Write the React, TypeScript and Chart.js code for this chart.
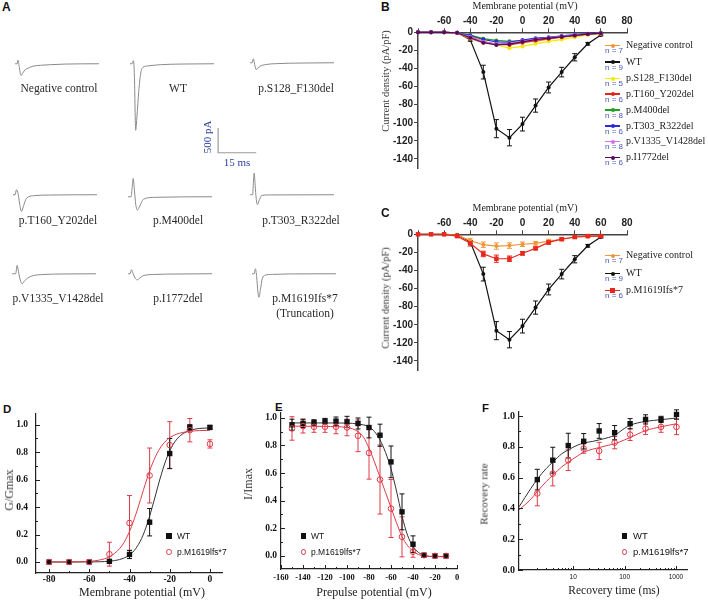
import React, { useEffect, useRef } from "react";
import { Chart, registerables } from "chart.js";
Chart.register(...registerables);

// ---------------- Panel A: representative current traces (ms, pA) ----------------
const ncTraceMs = [0, 0.8, 1.2, 1.6, 2.3, 3, 4, 5.5, 7, 10, 14, 20, 33];
const ncTracePA = [0, 0, 60, -40, -190, -150, -95, -65, -40, -25, -15, -5, 0];
const wtTraceMs = [0, 0.8, 1.3, 1.7, 2.2, 2.7, 3.4, 4.2, 5, 7, 12, 20, 33];
const wtTracePA = [0, 0, 50, -200, -1075, -850, -450, -150, -60, -35, -15, -5, 0];
const s128TraceMs = [0, 0.8, 1.3, 1.8, 2.4, 3, 4, 6, 10, 20, 33];
const s128TracePA = [0, 0, 65, -30, -110, -90, -55, -30, -15, -5, 0];
const t160TraceMs = [0, 0.8, 1.3, 2.0, 2.6, 3.3, 4.2, 5.3, 8, 14, 33];
const t160TracePA = [0, 0, 80, 10, -150, -270, -170, -55, -16, -5, 0];
const m400TraceMs = [0, 1.2, 1.6, 2.0, 2.5, 3.0, 3.7, 4.6, 6, 10, 33];
const m400TracePA = [0, 0, 150, 295, 100, -120, -215, -150, -43, -10, 0];
const t303TraceMs = [0, 1.0, 1.3, 1.6, 2.0, 2.4, 2.9, 3.5, 4.6, 8, 33];
const t303TracePA = [0, 0, 200, 350, 150, -60, -160, -100, -10, -3, 0];
const v1335TraceMs = [0, 1.4, 2.0, 2.5, 3.2, 4.0, 5.0, 7.2, 12.5, 20, 33.5];
const v1335TracePA = [0, 0, 135, 40, -100, -160, -110, -45, -12, -4, 0];
const i1772TraceMs = [0, 0.8, 1.3, 2.0, 2.8, 3.6, 4.6, 5.9, 10, 20, 33];
const i1772TracePA = [0, 0, 65, 0, -70, -100, -70, -32, -12, -4, 0];
const m1619TraceMs = [0, 0.8, 1.3, 1.8, 2.3, 2.7, 3.3, 4.0, 5.0, 8, 15, 33];
const m1619TracePA = [0, 0, 80, -50, -300, -380, -250, -80, -25, -10, -3, 0];
const scaleBarPA = 500;
const scaleBarMs = 15;

// ---------------- Panels B & C: I-V curves ----------------
const ivVoltages = [-80, -70, -60, -50, -40, -30, -20, -10, 0, 10, 20, 30, 40, 50, 60];
const ivNegCtrl = [0, 0, 0, -1, -7, -11.5, -13, -12.5, -11, -10, -7.5, -5.5, -3, -2.5, -2];
const ivNegCtrlErr = [0, 0, 0, 0.5, 2.5, 3, 3.5, 3, 2.5, 2, 2, 1.5, 1.5, 1, 1];
const ivWT = [0, 0, 0, -0.5, -8.3, -44, -106.5, -116.5, -101.5, -81, -61, -44, -27.6, -12.7, -2.9];
const ivWTErr = [0, 0, 0, 0.5, 1.5, 7.6, 10, 9, 7.6, 7.3, 6, 5.3, 4, 1.5, 1];
const ivS128 = [0, 0, 0, -0.5, -4, -9, -14, -17.5, -15.6, -12.7, -10, -8, -5.4, -3, -1];
const ivT160 = [0, 0, 0, -0.5, -5, -10.5, -13, -14, -11.5, -9, -7, -5.5, -3.6, -2, -1];
const ivM400 = [0, 0, 0, -0.5, -3, -7, -9, -10, -9, -7, -6, -4.5, -3, -2, -1];
const ivT303 = [0, 0, 0, -0.5, -3.5, -8, -10.5, -11, -8.5, -6.5, -5.5, -4, -2.5, -1.5, -1];
const ivV1335 = [0, 0, 0, -0.5, -5, -10.5, -13, -12, -10, -7.5, -6, -4.5, -3, -2, -1];
const ivI1772 = [0, 0, 0, -0.5, -6, -11.5, -14, -13, -10.5, -8, -6.5, -5, -3.5, -2, -1];
const ivM1619 = [0, 0, 0, -2, -10, -21.7, -27, -27, -21, -15.6, -9, -5.4, -3, -2, -2];
const ivM1619Err = [0, 0, 0, 1, 3, 3, 4, 3, 2, 1.5, 2, 1.5, 1, 1, 1];
const ivXTicks = [-80, -60, -40, -20, 0, 20, 40, 60, 80];
const ivYTicks = [-140, -120, -100, -80, -60, -40, -20, 0];

// ---------------- Panel D: activation ----------------
const actV = [-80, -70, -60, -50, -40, -30, -20, -10, 0];
const actWT = [0, 0, 0, 0.005, 0.055, 0.29, 0.79, 0.98, 0.98];
const actWTErr = [0, 0, 0, 0.005, 0.03, 0.1, 0.11, 0.02, 0.015];
const actMut = [0, 0, 0, 0.057, 0.284, 0.63, 0.852, 0.96, 0.86];
const actMutErr = [0, 0, 0, 0.087, 0.2, 0.2, 0.17, 0.085, 0.03];
const actFitWTV = [-80, -70, -60, -55, -50, -45, -40, -37, -34, -31, -28, -25, -22, -19, -16, -13, -10, -5, 0];
const actFitWT = [0, 0.0001, 0.0006, 0.0019, 0.0059, 0.0176, 0.051, 0.096, 0.171, 0.286, 0.436, 0.597, 0.737, 0.838, 0.902, 0.938, 0.958, 0.973, 0.976];
const actFitMutV = [-80, -70, -60, -55, -50, -45, -42, -39, -36, -33, -30, -27, -24, -21, -18, -15, -10, -5, 0];
const actFitMut = [0.0001, 0.0007, 0.0053, 0.0142, 0.038, 0.096, 0.161, 0.258, 0.385, 0.528, 0.663, 0.77, 0.846, 0.894, 0.922, 0.938, 0.952, 0.957, 0.959];
const actXTicks = [-80, -60, -40, -20, 0];
const actXMinor = [-70, -50, -30, -10];
const fracYTicks = [0, 0.2, 0.4, 0.6, 0.8, 1.0];
const fracYMinor = [0.1, 0.3, 0.5, 0.7, 0.9];

// ---------------- Panel E: steady-state inactivation ----------------
const inactV = [-150, -140, -130, -120, -110, -100, -90, -80, -70, -60, -50, -40, -30, -20, -10];
const inactWT = [0.95, 0.96, 0.966, 0.976, 0.976, 0.971, 0.959, 0.93, 0.874, 0.681, 0.319, 0.085, 0.005, 0, 0];
const inactWTErr = [0.04, 0.03, 0.02, 0.02, 0.03, 0.04, 0.04, 0.075, 0.08, 0.115, 0.13, 0.06, 0.01, 0.005, 0.005];
const inactMut = [0.923, 0.94, 0.935, 0.935, 0.935, 0.93, 0.87, 0.746, 0.553, 0.343, 0.138, 0.03, 0.005, 0, 0];
const inactMutErr = [0.085, 0.05, 0.04, 0.04, 0.05, 0.06, 0.115, 0.19, 0.25, 0.21, 0.145, 0.04, 0.01, 0.005, 0.005];
const inactFitWTV = [-150, -120, -100, -90, -80, -75, -70, -65, -60, -55, -50, -45, -40, -35, -30, -20, -10];
const inactFitWT = [0.963, 0.963, 0.962, 0.955, 0.935, 0.9, 0.84, 0.75, 0.63, 0.47, 0.29, 0.15, 0.07, 0.025, 0.005, -0.005, -0.005];
const inactFitMutV = [-150, -120, -100, -90, -85, -80, -75, -70, -65, -60, -55, -50, -45, -40, -35, -30, -20, -10];
const inactFitMut = [0.94, 0.938, 0.93, 0.9, 0.86, 0.78, 0.68, 0.57, 0.46, 0.35, 0.24, 0.14, 0.075, 0.035, 0.01, 0, -0.005, -0.005];
const inactXTicks = [-160, -140, -120, -100, -80, -60, -40, -20, 0];
const inactXMinor = [-150, -130, -110, -90, -70, -50, -30, -10];

// ---------------- Panel F: recovery from inactivation ----------------
const recT = [2, 4, 8, 16, 32, 64, 128, 256, 512, 1024];
const recWT = [0.587, 0.713, 0.808, 0.836, 0.903, 0.892, 0.95, 0.978, 0.978, 1.01];
const recWTErr = [0.067, 0.084, 0.08, 0.05, 0.048, 0.046, 0.033, 0.03, 0.02, 0.03];
const recMut = [0.497, 0.626, 0.713, 0.788, 0.773, 0.827, 0.879, 0.918, 0.929, 0.929];
const recMutErr = [0.08, 0.08, 0.067, 0.03, 0.056, 0.04, 0.038, 0.038, 0.035, 0.05];
const recFitT = [0.88, 1.5, 2, 3, 4, 6, 8, 12, 16, 24, 32, 48, 64, 100, 128, 256, 512, 1024];
const recFitWT = [0.41, 0.53, 0.59, 0.66, 0.7, 0.755, 0.78, 0.81, 0.825, 0.835, 0.845, 0.86, 0.875, 0.92, 0.94, 0.965, 0.976, 0.987];
const recFitMut = [0.39, 0.46, 0.51, 0.575, 0.615, 0.67, 0.7, 0.74, 0.765, 0.785, 0.795, 0.81, 0.82, 0.845, 0.86, 0.905, 0.93, 0.95];
const recXTicks = [10, 100, 1000];
const recXMinor = [2, 3, 4, 5, 6, 7, 8, 9, 20, 30, 40, 50, 60, 70, 80, 90, 200, 300, 400, 500, 600, 700, 800, 900];

// ---------------- styles ----------------
const SERIF = '"Liberation Serif", "Times New Roman", serif';
const SANS = '"Liberation Sans", Arial, sans-serif';
const C_NC = "#f0963a";
const C_WT = "#111111";
const C_S128 = "#f2ea00";
const C_T160 = "#e3241e";
const C_M400 = "#22a022";
const C_T303 = "#2a2ad8";
const C_V1335 = "#cf72ee";
const C_I1772 = "#5a0a5a";
const C_M1619 = "#e8281e";
const C_MUT = "#dd3c48";
const C_FITK = "#333333";
const N_BLUE = "#4a56b8";

const pts = (xs: number[], ys: number[]) => xs.map((x, i) => ({ x, y: ys[i] }));

const errorBarPlugin = {
  id: "errorBarsCustom",
  beforeDatasetsDraw(chart: any) {
    const ctx = chart.ctx;
    chart.data.datasets.forEach((ds: any, i: number) => {
      const err: number[] | undefined = ds.errorBars;
      if (!err) return;
      const meta = chart.getDatasetMeta(i);
      const xs = chart.scales[meta.xAxisID];
      const ys = chart.scales[meta.yAxisID];
      const cap = ds.errorCap ?? 2.5;
      ctx.save();
      ctx.strokeStyle = ds.errorColor || ds.borderColor;
      ctx.lineWidth = 1;
      ctx.beginPath();
      ds.data.forEach((p: any, j: number) => {
        const e = err[j];
        if (!e || e < 0.0001) return;
        const px = xs.getPixelForValue(p.x);
        const y1 = ys.getPixelForValue(p.y + e);
        const y2 = ys.getPixelForValue(p.y - e);
        if (Math.abs(y2 - y1) < 1.5) return;
        ctx.moveTo(px, y1);
        ctx.lineTo(px, y2);
        ctx.moveTo(px - cap, y1);
        ctx.lineTo(px + cap, y1);
        ctx.moveTo(px - cap, y2);
        ctx.lineTo(px + cap, y2);
      });
      ctx.stroke();
      ctx.restore();
    });
  },
};

function makeInTicks(cfg: { xMajor: number[]; xMinor: number[]; yMajor: number[]; yMinor: number[] }) {
  return {
    id: "inTicks",
    afterDraw(chart: any) {
      const ctx = chart.ctx;
      const { left, bottom } = chart.chartArea;
      const xs = chart.scales.x;
      const ys = chart.scales.y;
      ctx.save();
      ctx.strokeStyle = "#222";
      ctx.lineWidth = 1;
      ctx.beginPath();
      const xt = (v: number, len: number) => {
        const p = Math.round(xs.getPixelForValue(v)) + 0.5;
        ctx.moveTo(p, bottom);
        ctx.lineTo(p, bottom - len);
      };
      const yt = (v: number, len: number) => {
        const p = Math.round(ys.getPixelForValue(v)) + 0.5;
        ctx.moveTo(left, p);
        ctx.lineTo(left + len, p);
      };
      cfg.xMajor.forEach((v) => xt(v, 4));
      cfg.xMinor.forEach((v) => xt(v, 2));
      cfg.yMajor.forEach((v) => yt(v, 4));
      cfg.yMinor.forEach((v) => yt(v, 2));
      ctx.stroke();
      ctx.restore();
    },
  };
}

type Box = { left: number; top: number; width: number; height: number };

function ChartCanvas({ box, make }: { box: Box; make: () => any }) {
  const ref = useRef<HTMLCanvasElement>(null);
  useEffect(() => {
    const chart = new Chart(ref.current as HTMLCanvasElement, make());
    return () => chart.destroy();
  }, []);
  return (
    <canvas
      ref={ref}
      width={box.width}
      height={box.height}
      style={{ position: "absolute", left: box.left, top: box.top, width: box.width, height: box.height }}
    />
  );
}

function Txt(props: {
  x: number; y: number; text: string; size: number; family?: string; weight?: string | number;
  color?: string; align?: "left" | "center" | "right"; rotate?: boolean;
}) {
  const { x, y, text, size, family = SERIF, weight = "normal", color = "#222", align = "center", rotate = false } = props;
  const tx = align === "center" ? "-50%" : align === "left" ? "0" : "-100%";
  return (
    <div
      style={{
        position: "absolute", left: x, top: y,
        transform: `translate(${tx},-50%)${rotate ? " rotate(-90deg)" : ""}`,
        fontFamily: family, fontSize: size, fontWeight: weight as any, color,
        whiteSpace: "nowrap", lineHeight: 1,
      }}
    >
      {text}
    </div>
  );
}

// ---------- chart configs ----------
const TR_W = 89;
const TR_H = 99;
const TR_X0 = 5.1; // px from canvas left to t=0
const TR_Y0 = 24.75; // px from canvas top to 0 pA

function traceConfig(ms: number[], pa: number[], color = "#8a8a8a", width = 1) {
  return {
    type: "line",
    data: {
      datasets: [{
        data: pts(ms, pa), borderColor: color, borderWidth: width, pointRadius: 0,
        cubicInterpolationMode: "monotone", fill: false, clip: false,
      }],
    },
    options: {
      responsive: false, animation: false, layout: { padding: 0 },
      plugins: { legend: { display: false }, tooltip: { enabled: false } },
      scales: {
        x: { type: "linear", display: false, min: -2, max: 33 },
        y: { type: "linear", display: false, min: -1200, max: 400 },
      },
    },
  };
}

function scaleBarConfig() {
  return {
    type: "line",
    data: {
      datasets: [{
        data: [{ x: 0, y: scaleBarPA }, { x: 0, y: 0 }, { x: scaleBarMs, y: 0 }],
        borderColor: "#9a9a9a", borderWidth: 1.2, pointRadius: 0, tension: 0, clip: false,
      }],
    },
    options: {
      responsive: false, animation: false, layout: { padding: 0 },
      plugins: { legend: { display: false }, tooltip: { enabled: false } },
      scales: {
        x: { type: "linear", display: false, min: -2, max: 33 },
        y: { type: "linear", display: false, min: -1200, max: 400 },
      },
    },
  };
}

function ivSeries(label: string, ys: number[], color: string, opts: any = {}) {
  return {
    label, data: pts(ivVoltages, ys), showLine: true, borderColor: color, backgroundColor: color,
    borderWidth: 1.2, pointRadius: 2, pointBorderWidth: 0, tension: 0, clip: false, ...opts,
  };
}

function ivConfig(datasets: any[]) {
  const tickFont = { family: SANS, weight: "bold", size: 10 };
  return {
    type: "scatter",
    data: { datasets },
    plugins: [errorBarPlugin],
    options: {
      responsive: false, animation: false,
      layout: { padding: { left: 0, right: 13, top: 0, bottom: 5 } },
      plugins: { legend: { display: false }, tooltip: { enabled: false } },
      scales: {
        x: {
          type: "linear", position: "top", min: -80, max: 80,
          afterBuildTicks: (s: any) => { s.ticks = ivXTicks.map((v) => ({ value: v })); },
          afterFit: (s: any) => { s.height = 32.3; },
          ticks: { callback: (v: any) => (v === -80 ? "" : String(v)), font: tickFont, color: "#222", padding: 1, maxRotation: 0, autoSkip: false },
          grid: { display: true, drawOnChartArea: false, drawTicks: true, tickLength: 4, color: "#444", lineWidth: 1 },
          border: { display: true, color: "#444", width: 1.5 },
        },
        y: {
          type: "linear", position: "left", min: -150, max: 0,
          afterBuildTicks: (s: any) => { s.ticks = ivYTicks.map((v) => ({ value: v })); },
          afterFit: (s: any) => { s.width = 38; },
          ticks: { callback: (v: any) => String(v), font: tickFont, color: "#222", padding: 1, autoSkip: false },
          grid: { display: true, drawOnChartArea: false, drawTicks: true, tickLength: 4, color: "#444", lineWidth: 1 },
          border: { display: true, color: "#444", width: 1.5 },
        },
      },
    },
  };
}

function sciConfig(p: {
  datasets: any[]; xType: string; xMin: number; xMax: number; yMin: number; yMax: number;
  xTicks: number[]; xMinor: number[]; xFmt: (v: number) => string; xFont: any; xPad: number; xH: number;
  yW: number; yPad: number; yFont: any; padding: any;
}) {
  return {
    type: "scatter",
    data: { datasets: p.datasets },
    plugins: [errorBarPlugin, makeInTicks({ xMajor: p.xTicks, xMinor: p.xMinor, yMajor: fracYTicks, yMinor: fracYMinor })],
    options: {
      responsive: false, animation: false,
      layout: { padding: p.padding },
      plugins: { legend: { display: false }, tooltip: { enabled: false } },
      scales: {
        x: {
          type: p.xType, position: "bottom", min: p.xMin, max: p.xMax,
          afterBuildTicks: (s: any) => { s.ticks = p.xTicks.map((v) => ({ value: v })); },
          afterFit: (s: any) => { s.height = p.xH; },
          ticks: { callback: (v: any) => p.xFmt(Number(v)), font: p.xFont, color: "#111", padding: p.xPad, maxRotation: 0, autoSkip: false },
          grid: { display: false, drawTicks: false },
          border: { display: true, color: "#222", width: 1.2 },
        },
        y: {
          type: "linear", position: "left", min: p.yMin, max: p.yMax,
          afterBuildTicks: (s: any) => { s.ticks = fracYTicks.map((v) => ({ value: v })); },
          afterFit: (s: any) => { s.width = p.yW; },
          ticks: { callback: (v: any) => Number(v).toFixed(1), font: p.yFont, color: "#111", padding: p.yPad, autoSkip: false },
          grid: { display: false, drawTicks: false },
          border: { display: true, color: "#222", width: 1.2 },
        },
      },
    },
  };
}

function wtPoints(xs: number[], ys: number[], err: number[]) {
  return {
    data: pts(xs, ys), showLine: false, pointStyle: "rect", pointRadius: 3.8, pointBorderWidth: 0,
    backgroundColor: "#111", borderColor: "#111", errorBars: err, clip: false,
  };
}
function mutPoints(xs: number[], ys: number[], err: number[]) {
  return {
    data: pts(xs, ys), showLine: false, pointStyle: "circle", pointRadius: 2.8, pointBorderWidth: 1,
    backgroundColor: "rgba(255,255,255,0)", borderColor: C_MUT, errorBars: err, clip: false,
  };
}
function fitLine(xs: number[], ys: number[], color: string) {
  return {
    data: pts(xs, ys), showLine: true, pointRadius: 0, borderColor: color, borderWidth: 1,
    cubicInterpolationMode: "monotone", clip: false,
  };
}

const boldSerif = (size: number) => ({ family: SERIF, weight: "bold", size });

// ---------- layout ----------
const traces = [
  { ms: ncTraceMs, pa: ncTracePA, x: 15, y: 63.3 },
  { ms: wtTraceMs, pa: wtTracePA, x: 130, y: 63.3 },
  { ms: s128TraceMs, pa: s128TracePA, x: 250, y: 63 },
  { ms: t160TraceMs, pa: t160TracePA, x: 13.3, y: 195 },
  { ms: m400TraceMs, pa: m400TracePA, x: 128.3, y: 196.7 },
  { ms: t303TraceMs, pa: t303TracePA, x: 250, y: 195 },
  { ms: v1335TraceMs, pa: v1335TracePA, x: 11.7, y: 273.3 },
  { ms: i1772TraceMs, pa: i1772TracePA, x: 128.3, y: 274 },
  { ms: m1619TraceMs, pa: m1619TracePA, x: 251.7, y: 273.3 },
];
const traceLabels = [
  { t: "Negative control", x: 59, y: 89 },
  { t: "WT", x: 178, y: 89 },
  { t: "p.S128_F130del", x: 296, y: 89 },
  { t: "p.T160_Y202del", x: 58, y: 221 },
  { t: "p.M400del", x: 178, y: 221 },
  { t: "p.T303_R322del", x: 301, y: 221 },
  { t: "p.V1335_V1428del", x: 58, y: 299 },
  { t: "p.I1772del", x: 178, y: 299 },
  { t: "p.M1619Ifs*7", x: 305, y: 299 },
  { t: "(Truncation)", x: 305, y: 314 },
];

const bLegend = [
  { name: "Negative control", n: 7, color: C_NC, y: 45 },
  { name: "WT", n: 9, color: C_WT, y: 61.5 },
  { name: "p.S128_F130del", n: 5, color: C_S128, y: 78 },
  { name: "p.T160_Y202del", n: 6, color: C_T160, y: 93.5 },
  { name: "p.M400del", n: 8, color: C_M400, y: 109.5 },
  { name: "p.T303_R322del", n: 6, color: C_T303, y: 125.5 },
  { name: "p.V1335_V1428del", n: 8, color: C_V1335, y: 141 },
  { name: "p.I1772del", n: 6, color: C_I1772, y: 157 },
];
const cLegend = [
  { name: "Negative control", n: 7, color: C_NC, y: 255, square: false },
  { name: "WT", n: 9, color: C_WT, y: 273, square: false },
  { name: "p.M1619Ifs*7", n: 6, color: C_M1619, y: 290, square: true },
];

function IvLegendRow({ y, color, name, n, square }: { y: number; color: string; name: string; n: number; square?: boolean }) {
  return (
    <>
      <div style={{ position: "absolute", left: 605, top: y - 0.2, width: 15, height: 1.4, background: color }} />
      <div
        style={{
          position: "absolute", left: square ? 610 : 610.5, top: square ? y - 2 : y - 1.5,
          width: square ? 5 : 4, height: square ? 5 : 4, borderRadius: square ? 0 : 2, background: color,
        }}
      />
      <Txt x={605} y={y + 6} text={`n = ${n}`} size={8} family={SANS} color={N_BLUE} align="left" />
      <Txt x={626} y={y} text={name} size={10} align="left" />
    </>
  );
}

function SciLegend({ x, y1, y2, tx, size }: { x: number; y1: number; y2: number; tx: number; size: number }) {
  return (
    <>
      <div style={{ position: "absolute", left: x - 2.75, top: y1 - 2.75, width: 5.5, height: 5.5, background: "#111" }} />
      <Txt x={tx} y={y1} text="WT" size={size} family={SANS} color="#111" align="left" />
      <div
        style={{
          position: "absolute", left: x - 2.8, top: y2 - 2.8, width: 5.6, height: 5.6,
          borderRadius: "50%", border: `1px solid ${C_MUT}`, boxSizing: "border-box",
        }}
      />
      <Txt x={tx} y={y2} text="p.M1619lfs*7" size={size} family={SANS} color="#111" align="left" />
    </>
  );
}

export default function App() {
  return (
    <div style={{ position: "absolute", left: 0, top: 0, width: 708, height: 601, background: "#fff", overflow: "hidden" }}>
      {/* Panel A */}
      <Txt x={2} y={7} text="A" size={12} family={SANS} weight="bold" color="#111" align="left" />
      {traces.map((t, i) => (
        <ChartCanvas
          key={"tr" + i}
          box={{ left: t.x - TR_X0, top: t.y - TR_Y0, width: TR_W, height: TR_H }}
          make={() => traceConfig(t.ms, t.pa)}
        />
      ))}
      {traceLabels.map((l, i) => (
        <Txt key={"tl" + i} x={l.x} y={l.y} text={l.t} size={11.5} color="#2a2a2a" />
      ))}
      <ChartCanvas box={{ left: 218 - TR_X0, top: 153 - TR_Y0, width: TR_W, height: TR_H }} make={scaleBarConfig} />
      <Txt x={207} y={137} text="500 pA" size={11} color="#2b3f9e" rotate />
      <Txt x={237} y={162} text="15 ms" size={11} color="#2b3f9e" />

      {/* Panel B */}
      <Txt x={381} y={7} text="B" size={12} family={SANS} weight="bold" color="#111" align="left" />
      <ChartCanvas
        box={{ left: 380, top: 0, width: 260, height: 175 }}
        make={() =>
          ivConfig([
            ivSeries("p.I1772del", ivI1772, C_I1772),
            ivSeries("p.V1335_V1428del", ivV1335, C_V1335),
            ivSeries("p.T303_R322del", ivT303, C_T303),
            ivSeries("p.M400del", ivM400, C_M400),
            ivSeries("p.T160_Y202del", ivT160, C_T160),
            ivSeries("p.S128_F130del", ivS128, C_S128),
            ivSeries("Negative control", ivNegCtrl, C_NC),
            ivSeries("WT", ivWT, C_WT, { errorBars: ivWTErr, errorCap: 2.5 }),
          ])
        }
      />
      <Txt x={525} y={5.5} text="Membrane potential (mV)" size={10} />
      <Txt x={386} y={81} text="Current density (pA/pF)" size={10.5} color="#3a3a3a" rotate />
      {bLegend.map((r, i) => (
        <IvLegendRow key={"bl" + i} {...r} />
      ))}

      {/* Panel C */}
      <Txt x={381} y={213} text="C" size={12} family={SANS} weight="bold" color="#111" align="left" />
      <ChartCanvas
        box={{ left: 380, top: 201.7, width: 260, height: 175 }}
        make={() =>
          ivConfig([
            ivSeries("p.M1619Ifs*7", ivM1619, C_M1619, { pointStyle: "rect", pointRadius: 3.2, errorBars: ivM1619Err, errorCap: 2.5 }),
            ivSeries("Negative control", ivNegCtrl, C_NC, { errorBars: ivNegCtrlErr, errorCap: 2.5 }),
            ivSeries("WT", ivWT, C_WT, { errorBars: ivWTErr, errorCap: 2.5 }),
          ])
        }
      />
      <Txt x={525} y={208} text="Membrane potential (mV)" size={10} />
      <Txt x={386} y={298} text="Current density (pA/pF)" size={10.5} color="#3a3a3a" rotate />
      {cLegend.map((r, i) => (
        <IvLegendRow key={"cl" + i} {...r} />
      ))}

      {/* Panel D */}
      <Txt x={3} y={409.5} text="D" size={11.5} family={SANS} weight="bold" color="#111" align="left" />
      <ChartCanvas
        box={{ left: 0, top: 400, width: 235, height: 201 }}
        make={() =>
          sciConfig({
            datasets: [
              mutPoints(actV, actMut, actMutErr),
              wtPoints(actV, actWT, actWTErr),
              fitLine(actFitMutV, actFitMut, C_MUT),
              fitLine(actFitWTV, actFitWT, C_FITK),
            ],
            xType: "linear", xMin: -86.5, xMax: 6, yMin: -0.08, yMax: 1.08,
            xTicks: actXTicks, xMinor: actXMinor, xFmt: (v) => String(v), xFont: boldSerif(9.5), xPad: 1, xH: 28,
            yW: 36, yPad: 8, yFont: boldSerif(9.5), padding: { left: 0, right: 13, top: 12, bottom: 0 },
          })
        }
      />
      <Txt x={9} y={490} text="G/Gmax" size={12} color="#3a3a3a" rotate />
      <Txt x={142} y={592} text="Membrane potential (mV)" size={12} />
      <SciLegend x={169} y1={536} y2={552} tx={177} size={8.5} />

      {/* Panel E */}
      <Txt x={275} y={407.5} text="E" size={11.5} family={SANS} weight="bold" color="#111" align="left" />
      <ChartCanvas
        box={{ left: 235, top: 400, width: 235, height: 201 }}
        make={() =>
          sciConfig({
            datasets: [
              mutPoints(inactV, inactMut, inactMutErr),
              wtPoints(inactV, inactWT, inactWTErr),
              fitLine(inactFitMutV, inactFitMut, C_MUT),
              fitLine(inactFitWTV, inactFitWT, C_FITK),
            ],
            xType: "linear", xMin: -160, xMax: 0, yMin: -0.095, yMax: 1.035,
            xTicks: inactXTicks, xMinor: inactXMinor, xFmt: (v) => String(v), xFont: boldSerif(8.5), xPad: 4, xH: 32,
            yW: 46, yPad: 4, yFont: boldSerif(9.5), padding: { left: 0, right: 13, top: 13, bottom: 0 },
          })
        }
      />
      <Txt x={248} y={484} text="I/Imax" size={12} color="#3a3a3a" rotate />
      <Txt x={374} y={592} text="Prepulse potential (mV)" size={12} />
      <SciLegend x={303.5} y1={536} y2={552} tx={311} size={8.5} />

      {/* Panel F */}
      <Txt x={482} y={409} text="F" size={11.5} family={SANS} weight="bold" color="#111" align="left" />
      <ChartCanvas
        box={{ left: 470, top: 400, width: 238, height: 201 }}
        make={() =>
          sciConfig({
            datasets: [
              mutPoints(recT, recMut, recMutErr),
              wtPoints(recT, recWT, recWTErr),
              fitLine(recFitT, recFitMut, C_MUT),
              fitLine(recFitT, recFitWT, C_FITK),
            ],
            xType: "logarithmic", xMin: 0.88, xMax: 1640, yMin: 0, yMax: 1.026,
            xTicks: recXTicks, xMinor: recXMinor, xFmt: (v) => String(v), xFont: { family: SANS, size: 6.5 }, xPad: 3, xH: 31,
            yW: 49, yPad: 4, yFont: boldSerif(10), padding: { left: 0, right: 21, top: 12, bottom: 0 },
          })
        }
      />
      <Txt x={484} y={494} text="Recovery rate" size={11} color="#3a3a3a" rotate />
      <Txt x={614} y={591} text="Recovery time (ms)" size={11.5} />
      <SciLegend x={624.5} y1={536} y2={552} tx={633} size={9.5} />
    </div>
  );
}
